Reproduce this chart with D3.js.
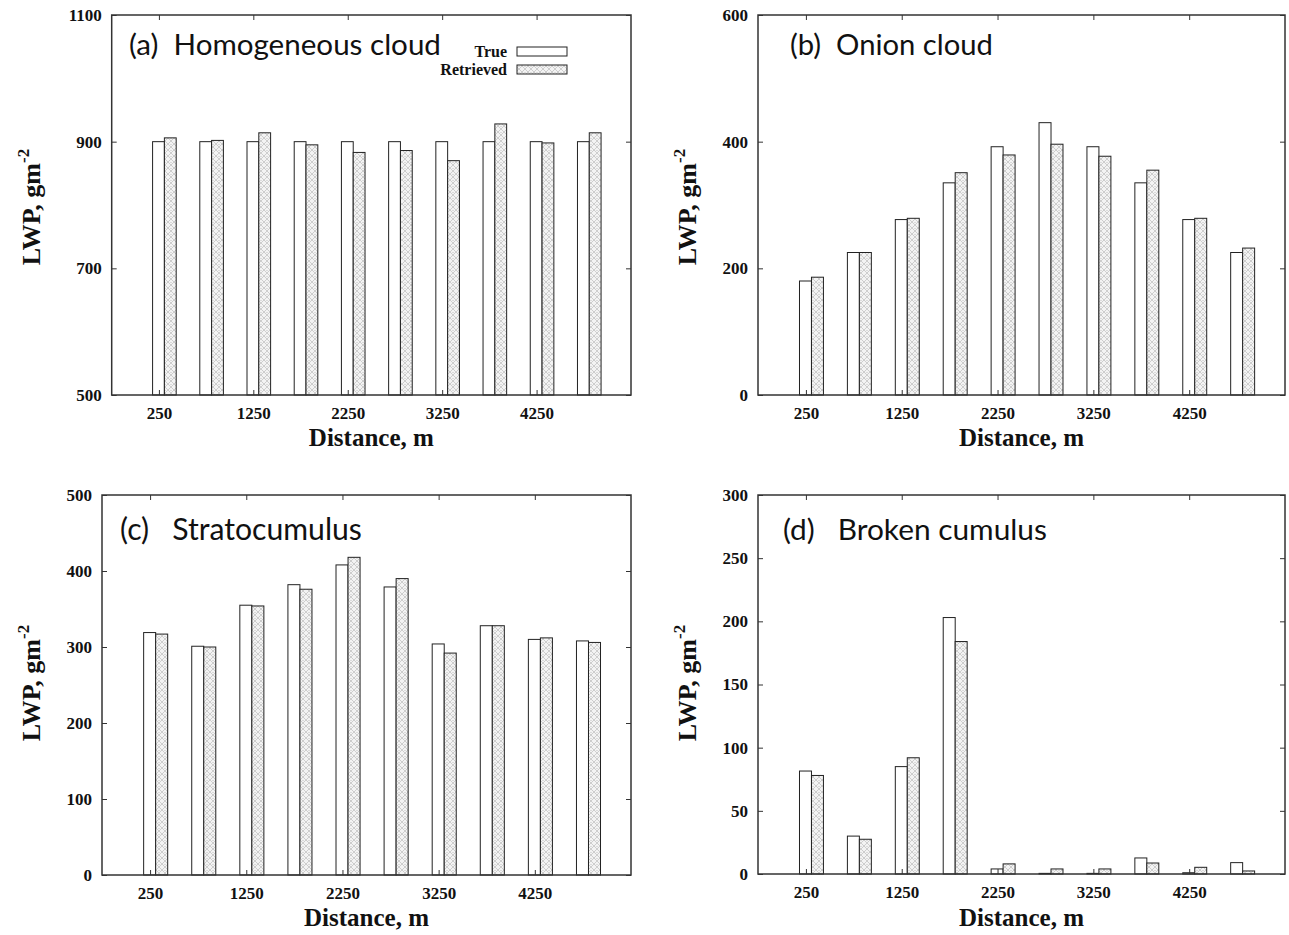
<!DOCTYPE html>
<html>
<head>
<meta charset="utf-8">
<script src="https://cdn.jsdelivr.net/npm/d3@7"></script>
<style>
  html, body { margin: 0; padding: 0; background: #fff; }
  svg { display: block; }
  .tick text { font-family: "Liberation Serif", "Times New Roman", serif; font-weight: bold; font-size: 17px; fill: #111; }
  .domain { display: none; }
  .tick line { stroke: #333; stroke-width: 1; }
</style>
</head>
<body>
<svg id="chart" width="1289" height="935"></svg>
<script>
// ---------------- data ----------------
const distances = [250, 750, 1250, 1750, 2250, 2750, 3250, 3750, 4250, 4750];
const xTickLabels = [250, 1250, 2250, 3250, 4250];
const seriesNames = ["True", "Retrieved"];

const homogeneousTrue      = [900, 900, 900, 900, 900, 900, 900, 900, 900, 900];
const homogeneousRetrieved = [906, 902, 914, 895, 883, 886, 870, 928, 898, 914];

const onionTrue      = [180, 225, 277, 335, 392, 430, 392, 335, 277, 225];
const onionRetrieved = [186, 225, 279, 351, 379, 396, 377, 355, 279, 232];

const stratoTrue      = [319, 301, 355, 382, 408, 379, 304, 328, 310, 308];
const stratoRetrieved = [317, 300, 354, 376, 418, 390, 292, 328, 312, 306];

const brokenTrue      = [81.5, 30, 85, 203, 4, 0.5, 0.5, 12.7, 1, 9];
const brokenRetrieved = [78, 27.5, 92, 184, 8, 4, 4, 8.7, 5.3, 2.4];

const titles = ["(a)  Homogeneous cloud", "(b)  Onion cloud", "(c)   Stratocumulus", "(d)   Broken cumulus"];
const yDomains = [[500, 1100], [0, 600], [0, 500], [0, 300]];
const yTickValues = [
  [500, 700, 900, 1100],
  [0, 200, 400, 600],
  [0, 100, 200, 300, 400, 500],
  [0, 50, 100, 150, 200, 250, 300]
];

// ---------------- layout ----------------
const layouts = [
  { left: 111.7, right: 631, top: 15, bottom: 395, ylabX: 40, ylabY: 207, xlabY: 446, titleX: 129, titleY: 55, titleW: 312 },
  { left: 758,   right: 1285, top: 15, bottom: 395, ylabX: 696, ylabY: 207, xlabY: 446, titleX: 790, titleY: 55, titleW: 203 },
  { left: 102,   right: 631, top: 495, bottom: 875, ylabX: 40, ylabY: 683, xlabY: 926, titleX: 120, titleY: 540, titleW: 242 },
  { left: 758,   right: 1285, top: 495, bottom: 874, ylabX: 696, ylabY: 683, xlabY: 926, titleX: 783, titleY: 540, titleW: 264 }
];

const panels = [
  { t: homogeneousTrue, r: homogeneousRetrieved },
  { t: onionTrue, r: onionRetrieved },
  { t: stratoTrue, r: stratoRetrieved },
  { t: brokenTrue, r: brokenRetrieved }
].map((p, i) => Object.assign({}, p, layouts[i], { title: titles[i], yDomain: yDomains[i], yTicks: yTickValues[i] }));

const svg = d3.select("#chart");
const defs = svg.append("defs");
const pat = defs.append("pattern").attr("id", "hatch")
  .attr("width", 6).attr("height", 6).attr("patternUnits", "userSpaceOnUse");
pat.append("rect").attr("width", 6).attr("height", 6).attr("fill", "#f3f3f3");
pat.append("path").attr("d", "M0,0L6,6M6,0L0,6").attr("stroke", "#bdbdbd").attr("stroke-width", 0.7);
pat.append("circle").attr("cx", 3).attr("cy", 0).attr("r", 0.6).attr("fill", "#999");

const serif = '"Liberation Serif", "Times New Roman", serif';
const sans = 'Lato, "Open Sans", "Noto Sans", sans-serif';

panels.forEach((p, pi) => {
  const g = svg.append("g");
  const x = d3.scaleLinear().domain([-250, 5250]).range([p.left, p.right]);
  const y = d3.scaleLinear().domain(p.yDomain).range([p.bottom, p.top]);
  const barW = x(125) - x(0);
  const off = x(58) - x(0);

  // bars
  const rows = distances.map((d, i) => ({ d, t: p.t[i], r: p.r[i] }));
  g.selectAll("rect.true").data(rows).join("rect")
    .attr("class", "true")
    .attr("x", d => x(d.d) + off - barW)
    .attr("y", d => y(d.t))
    .attr("width", barW)
    .attr("height", d => y(p.yDomain[0]) - y(d.t))
    .attr("fill", "#fff").attr("stroke", "#222").attr("stroke-width", 1);
  g.selectAll("rect.ret").data(rows).join("rect")
    .attr("class", "ret")
    .attr("x", d => x(d.d) + off)
    .attr("y", d => y(d.r))
    .attr("width", barW)
    .attr("height", d => y(p.yDomain[0]) - y(d.r))
    .attr("fill", "url(#hatch)").attr("stroke", "#222").attr("stroke-width", 1);

  // axes (inward ticks, mirrored)
  g.append("g").attr("transform", `translate(${p.left},0)`)
    .call(d3.axisLeft(y).tickValues(p.yTicks).tickSizeInner(-5).tickSizeOuter(0).tickPadding(10).tickFormat(d3.format("d")));
  g.append("g").attr("transform", `translate(${p.right},0)`)
    .call(d3.axisRight(y).tickValues(p.yTicks).tickSizeInner(-5).tickSizeOuter(0).tickFormat(""));
  g.append("g").attr("transform", `translate(0,${p.bottom})`)
    .call(d3.axisBottom(x).tickValues(xTickLabels).tickSizeInner(-5).tickSizeOuter(0).tickPadding(12).tickFormat(d3.format("d")));
  g.append("g").attr("transform", `translate(0,${p.top})`)
    .call(d3.axisTop(x).tickValues(xTickLabels).tickSizeInner(-5).tickSizeOuter(0).tickFormat(""));

  // frame
  g.append("rect").attr("x", p.left).attr("y", p.top)
    .attr("width", p.right - p.left).attr("height", p.bottom - p.top)
    .attr("fill", "none").attr("stroke", "#333").attr("stroke-width", 1.5);

  // y label
  const yl = g.append("text")
    .attr("transform", `translate(${p.ylabX},${p.ylabY}) rotate(-90)`)
    .attr("text-anchor", "middle")
    .attr("font-family", serif).attr("font-weight", "bold").attr("font-size", 26).attr("fill", "#111");
  yl.append("tspan").text("LWP, gm");
  yl.append("tspan").attr("dy", -11).attr("font-size", 17).text("-2");

  // x label
  g.append("text").attr("x", (p.left + p.right) / 2).attr("y", p.xlabY)
    .attr("text-anchor", "middle")
    .attr("font-family", serif).attr("font-weight", "bold").attr("font-size", 25).attr("fill", "#111")
    .text("Distance, m");

  // panel title
  const tt = g.append("text").attr("x", p.titleX).attr("y", p.titleY)
    .attr("font-family", sans).attr("font-size", 30).attr("fill", "#111")
    .style("white-space", "pre").attr("xml:space", "preserve")
    .text(p.title);
  const w = tt.node().getComputedTextLength();
  if (w > 0) tt.attr("font-size", 30 * p.titleW / w);

  // legend (panel a only)
  if (pi === 0) {
    const lx = 517, lw = 50, lh = 9;
    const entries = [
      { name: seriesNames[0], fill: "#fff", y: 47 },
      { name: seriesNames[1], fill: "url(#hatch)", y: 65 }
    ];
    entries.forEach(e => {
      g.append("rect").attr("x", lx).attr("y", e.y).attr("width", lw).attr("height", lh)
        .attr("fill", e.fill).attr("stroke", "#222").attr("stroke-width", 1);
      g.append("text").attr("x", lx - 10).attr("y", e.y + lh + 1).attr("text-anchor", "end")
        .attr("font-family", serif).attr("font-weight", "bold").attr("font-size", 16).attr("fill", "#111")
        .text(e.name);
    });
  }
});
</script>
</body>
</html>
